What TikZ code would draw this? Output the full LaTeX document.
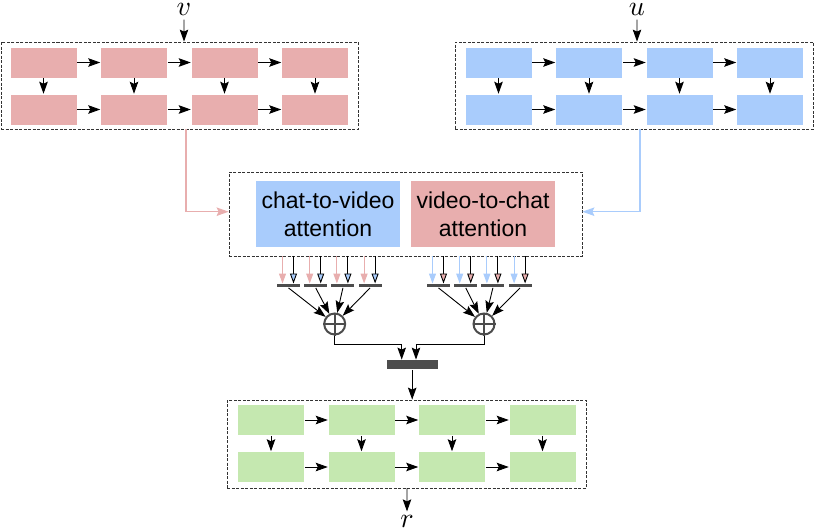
\documentclass[tikz,border=0pt]{standalone}
\usepackage{fontspec}
\setmainfont{Liberation Sans}
\usetikzlibrary{arrows.meta}
\definecolor{vidred}{RGB}{232,174,174}
\definecolor{chatblue}{RGB}{169,204,252}
\definecolor{outgreen}{RGB}{197,232,176}
\definecolor{bargray}{RGB}{77,77,77}
\begin{document}
\begin{tikzpicture}[x=1pt, y=-1pt, line width=0.9pt, >={Stealth[length=12pt,width=8.5pt,inset=2pt]},
    cell/.style={minimum width=67, minimum height=31, inner sep=0, draw=white, line width=0.5pt},
    frame/.style={draw=black!80, dash pattern=on 3pt off 1.5pt, line width=0.8pt},
    bar/.style={fill=bargray, minimum width=23, minimum height=3.5, inner sep=0},
    sum/.style={circle, draw=black!70, line width=2pt, minimum size=21, inner sep=0},
    att/.style={minimum width=144, minimum height=66, inner sep=0, align=center, font=\fontsize{23}{28}\selectfont},
    lab/.style={scale=2.8, inner sep=1},
    smalltip/.style={-{Triangle[length=10pt,width=7pt,#1]}}]
\useasboundingbox (0,0) rectangle (814,531);
% encoders and decoder
\foreach \g/\col/\xo/\yo in {v/vidred/43.5/62.5, u/chatblue/498.5/62.5, r/outgreen/271/420}{
  \foreach \i in {1,...,4}
    \foreach \j in {1,2}
      \node[cell, fill=\col] (\g\i\j) at ({\xo+(\i-1)*90.5}, {\yo+(\j-1)*47}) {};
  \foreach \i [evaluate=\i as \n using int(\i+1)] in {1,2,3}{
    \draw[->] (\g\i1) -- (\g\n1);
    \draw[->] (\g\i2) -- (\g\n2);
  }
  \foreach \i in {1,...,4}
    \draw[->] (\g\i1) -- (\g\i2);
}
\node[frame, minimum width=357, minimum height=87] (venc) at (179.5,85.5) {};
\node[frame, minimum width=358, minimum height=87] (uenc) at (634,85.5) {};
\node[frame, minimum width=359, minimum height=88] (dec) at (406.5,444) {};
\node[lab] (vlab) at (184,9.5) {$v$};
\node[lab] (ulab) at (637,9.5) {$u$};
\node[lab] (rlab) at (407,521.5) {$r$};
\draw[->] (vlab) -- (vlab |- venc.north);
\draw[->] (ulab) -- (ulab |- uenc.north);
\draw[->] (rlab |- dec.south) -- (rlab);
% co-attention
\node[frame, minimum width=353, minimum height=84] (coatt) at (405.5,214) {};
\node[att, fill=chatblue] (c2v) at (328,214) {chat-to-video\\attention};
\node[att, fill=vidred] (v2c) at (483,214) {video-to-chat\\attention};
\draw[vidred, line width=1.1pt, ->] ([xshift=6.5]venc.south) |- ([yshift=2.3]coatt.west);
\draw[chatblue, line width=1.1pt, ->] ([xshift=6]uenc.south) |- ([yshift=2.3]coatt.east);
% pooling
\node[sum] (sumL) at (334.7,324) {};
\node[sum] (sumR) at (484,324) {};
\foreach \s in {sumL,sumR}
  \draw[black!70, line width=2pt] (\s.north) -- (\s.south) (\s.west) -- (\s.east);
\foreach \i in {1,...,4}{
  \node[bar] (lb\i) at ({288.5+(\i-1)*27.2}, 285.7) {};
  \node[bar] (rb\i) at ({438.5+(\i-1)*27.2}, 285.7) {};
  \draw[vidred, line width=1.1pt, smalltip] ([xshift=-6]lb\i.north |- coatt.south) -- ([xshift=-6]lb\i.north);
  \draw[smalltip={fill=chatblue}] ([xshift=5]lb\i.north |- coatt.south) -- ([xshift=5]lb\i.north);
  \draw[chatblue, line width=1.1pt, smalltip] ([xshift=-6]rb\i.north |- coatt.south) -- ([xshift=-6]rb\i.north);
  \draw[smalltip={fill=vidred}] ([xshift=5]rb\i.north |- coatt.south) -- ([xshift=5]rb\i.north);
  \draw[->] (lb\i.south) -- (sumL);
  \draw[->] (rb\i.south) -- (sumR);
}
\node[bar, minimum width=51, minimum height=9.3] (merge) at (412.2,364.7) {};
\draw[->] (sumL.south) -- ++(0,9) -| ([xshift=-10.5]merge.north);
\draw[->] (sumR.south) -- ++(0,9) -| ([xshift=3.8]merge.north);
\draw[->] (merge.south) -- (merge.south |- dec.north);
\end{tikzpicture}
\end{document}
